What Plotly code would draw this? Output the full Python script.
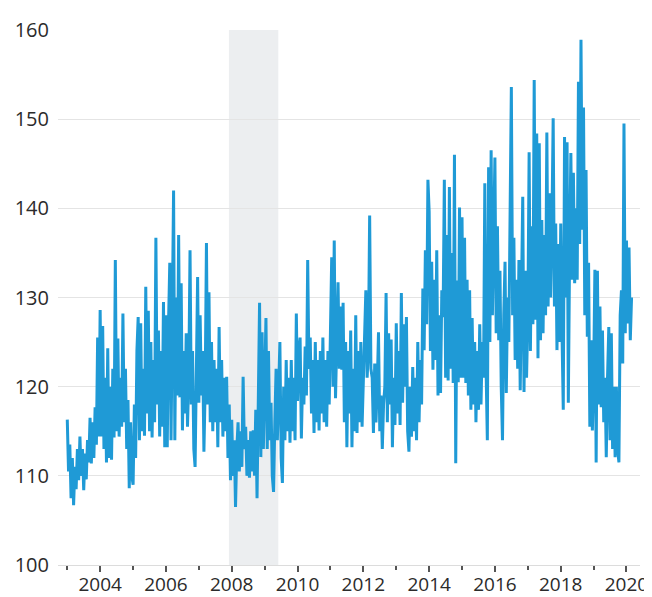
import pandas as pd
import plotly.graph_objects as go

# Bi-weekly values per year (26 points per year)
v2003 = [116.3, 110.5, 113.5, 107.5, 112, 106.7, 111, 108.5, 113, 109.5, 114.4, 110, 113,
         108.4, 112.5, 109.6, 114, 111.5, 116.5, 111.4, 116, 112, 117.7, 113.5, 125.5, 114.4]
v2004 = [128.6, 114.4, 126.8, 113, 121, 111.5, 124.3, 112, 120, 111.8, 122, 114.3, 134.2,
         115, 125.4, 114.4, 121, 115.5, 128.2, 116, 122, 113, 118.5, 108.6, 116, 110]
v2005 = [109, 118, 112, 124, 127.8, 114, 127.1, 115, 122, 114.5, 131.2, 117, 128.5,
         115, 125, 114.3, 123, 116, 136.7, 118, 126.3, 114.4, 124, 115.5, 129.5, 113.2]
v2006 = [128, 113.2, 127, 133.9, 114, 125, 142.0, 114, 130, 119, 137, 118.8, 131.6,
         115.1, 124, 117, 126, 115.5, 121, 135.3, 118, 124, 113, 111.0, 122, 132.3]
v2007 = [118.2, 128, 119, 124, 112.7, 120, 136.1, 118, 130.6, 116, 125, 115, 123,
         116, 122, 113.2, 126.7, 116, 123, 114.4, 121, 115, 121.1, 112, 118, 109.5]
v2008 = [116.3, 110, 114, 106.5, 113, 116, 110.5, 115, 111, 121.1, 113, 115.5, 110,
         114, 109.8, 115, 110.5, 115.1, 110, 117.4, 107.5, 118, 129.4, 112.1, 126.1, 113]
v2009 = [120, 127.7, 113, 124, 114, 118.2, 110, 108.2, 116, 122, 114, 121, 125,
         112, 109.2, 120, 114, 123, 115, 121, 113.7, 123, 115, 121, 114, 128.2]
v2010 = [118.4, 124, 125.5, 114.2, 121, 118, 124.5, 119, 134.2, 122, 125.5, 117, 123,
         114.8, 125, 116, 123, 115.1, 124, 117, 125.5, 116, 123, 115.5, 124, 118]
v2011 = [125, 134.5, 120, 136.4, 118.7, 127, 131.7, 122, 129, 121.9, 129.4, 116, 125,
         113.2, 124, 117, 126.3, 113.2, 122, 115, 128, 114.8, 124, 116, 125, 115.5]
v2012 = [121, 126, 130.8, 121, 124, 139.2, 122, 121, 114.8, 122.6, 116, 120, 126.1,
         115, 119, 113, 118, 120, 130.5, 116, 126, 118, 125.3, 113.2, 121, 115.7]
v2013 = [127.1, 117, 124, 115.7, 130.5, 118.2, 127, 120, 127.8, 115, 112.7, 120, 114.4,
         122.2, 115, 121, 114, 125, 116, 123, 118, 131, 124.1, 135.3, 127, 143.2]
v2014 = [139.6, 124, 134, 121.9, 132, 123, 135.3, 119, 128, 119.3, 130.8, 127.8, 143.2,
         121, 137, 120.7, 142.4, 122, 135, 120.4, 146.0, 111.4, 131.9, 120.5, 140.1, 121]
v2015 = [139, 121, 136.7, 120.4, 132, 119, 130.8, 117.4, 127.7, 118, 125, 116.0, 124,
         117.4, 127, 118, 125, 121, 142.8, 122, 114.0, 144.6, 125, 146.5, 128, 137]
v2016 = [145.7, 126, 138, 125.2, 133, 120, 114.0, 128, 134, 119.3, 130, 125, 140.6,
         153.6, 128, 136.7, 123, 132, 122, 134.2, 119.6, 130, 141.3, 119.4, 133, 121]
v2017 = [128, 146.3, 124, 138, 127, 154.4, 127.5, 148.4, 123.2, 147.3, 125.2, 138.7, 126,
         137, 128, 148.5, 129, 141.7, 130, 138, 150.1, 129, 138.3, 124.1, 136, 125]
v2018 = [138.3, 126, 117.4, 148.0, 130, 147.4, 118.2, 135, 146.2, 132, 144, 131.6, 140,
         132, 154.2, 136, 158.9, 137.6, 151.3, 128, 144.3, 125.6, 133.9, 115.5, 125.2, 115.1]
v2019 = [121, 133.1, 111.5, 133, 118, 129, 117.7, 126.3, 116, 121, 112.1, 121, 126.7,
         114, 126, 113, 120, 112.1, 120, 113, 111.5, 128, 130.8, 122.6, 149.5, 126]
v2020 = [136.4, 127.1, 135.6, 125.2, 130]

years = list(range(2003, 2021))
yearly = [v2003, v2004, v2005, v2006, v2007, v2008, v2009, v2010, v2011,
          v2012, v2013, v2014, v2015, v2016, v2017, v2018, v2019, v2020]

dates, values = [], []
for yr, vals in zip(years, yearly):
    for i, v in enumerate(vals):
        dates.append(pd.Timestamp(yr, 1, 1) + pd.Timedelta(days=i * 365.25 / 26))
        values.append(v)

recession_start = "2007-12-01"
recession_end = "2009-06-01"

fig = go.Figure()
fig.add_trace(go.Scatter(
    x=dates, y=values, mode="lines",
    line=dict(color="#1f9ad6", width=3),
    hoverinfo="x+y", showlegend=False,
))

fig.add_shape(type="rect", xref="x", yref="paper",
              x0=recession_start, x1=recession_end, y0=0, y1=1,
              fillcolor="#eceef0", line=dict(width=0), layer="below")

# page has an 8px body margin, so the figure is sized/offset to compensate
fig.update_layout(
    width=644, height=589,
    margin=dict(l=50, r=12, t=22, b=32, autoexpand=False),
    paper_bgcolor="white", plot_bgcolor="white",
    font=dict(family="Open Sans, sans-serif", size=19, color="#2b2b2b"),
)
fig.update_xaxes(
    type="date", range=["2002-09-20", "2020-05-30"],
    dtick="M24", tick0="2004-01-01", tickformat="%Y",
    ticks="outside", ticklen=6, tickcolor="#555555", tickwidth=1.5,
    minor=dict(ticks="outside", dtick="M12", tick0="2003-01-01", ticklen=4,
               tickcolor="#555555", tickwidth=1.5, showgrid=False),
    showline=True, linecolor="#dcdcdc", linewidth=1,
    showgrid=False, zeroline=False, automargin=False,
    ticklabelstandoff=-4,
)
fig.update_yaxes(
    range=[100, 160], dtick=10,
    showgrid=True, gridcolor="#e4e4e4", gridwidth=1,
    zeroline=False, showline=False, ticks="",
    ticklabelstandoff=8, automargin=False,
    tickfont=dict(size=20),
)

fig.write_html("out.html")
